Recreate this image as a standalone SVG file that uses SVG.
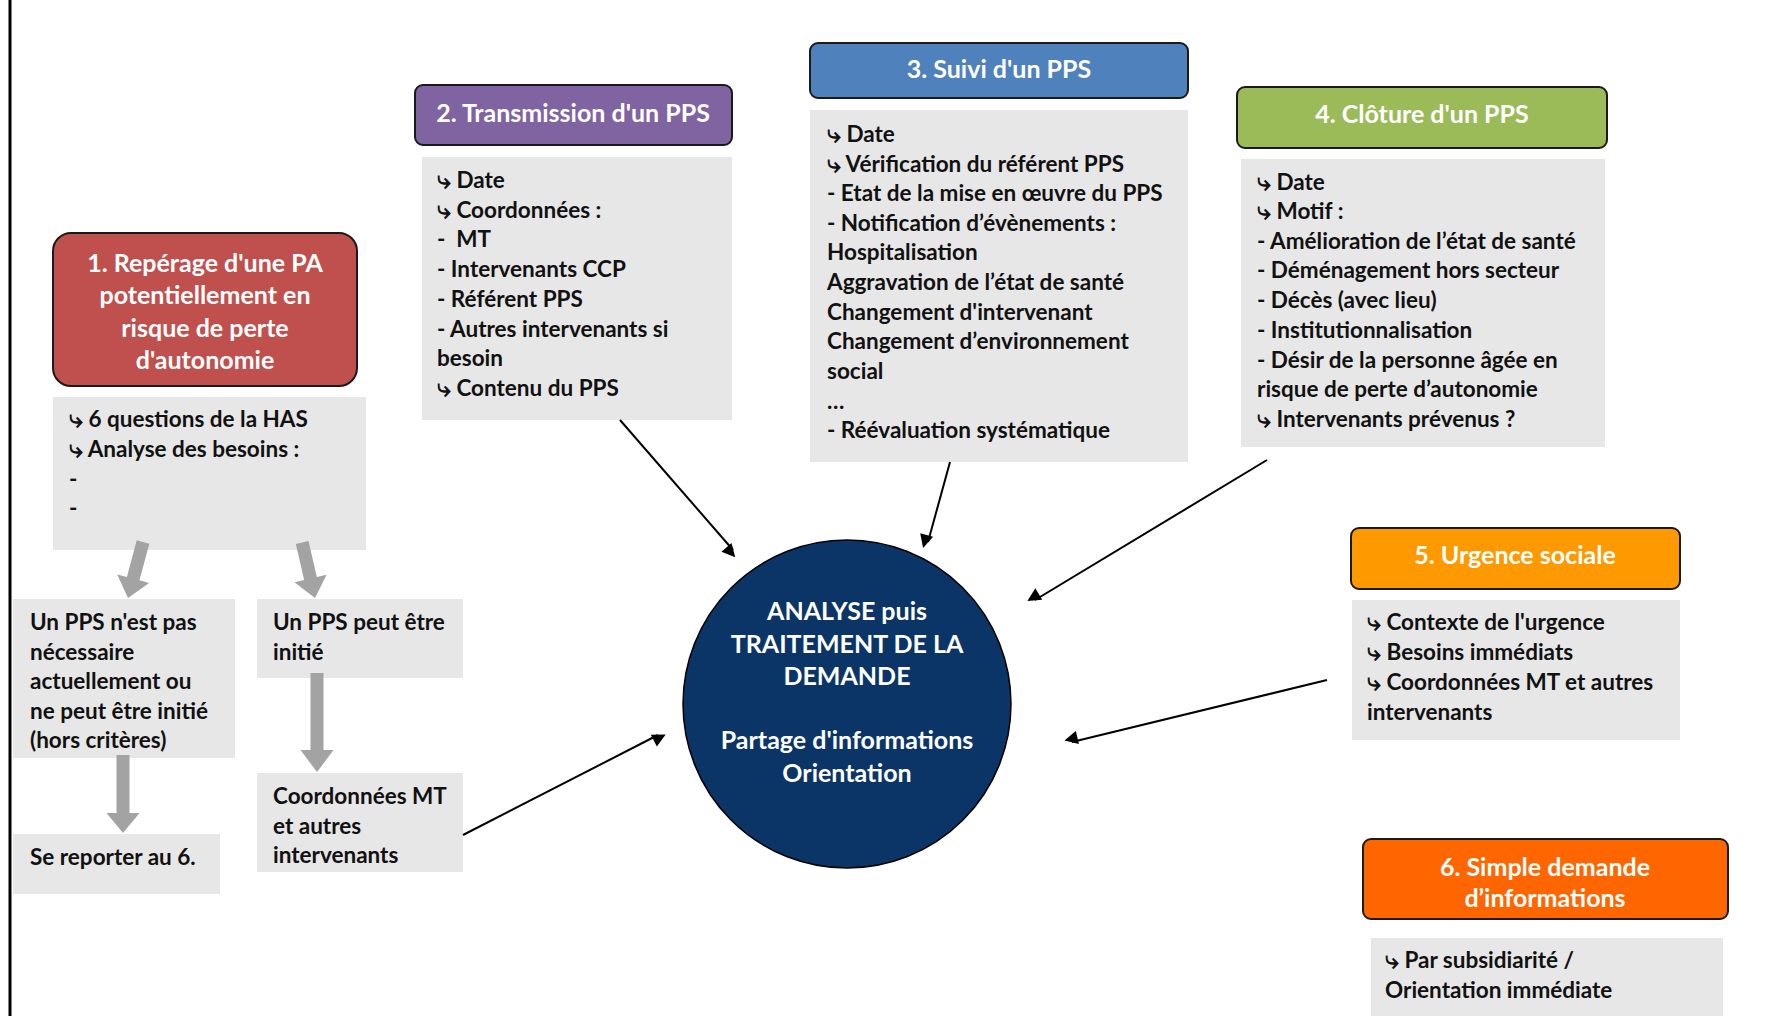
<svg xmlns="http://www.w3.org/2000/svg" width="1769" height="1016" viewBox="0 0 1769 1016">
<style>
.hdr{stroke:#1a1a1a;stroke-width:2}
.gray{fill:#E7E7E7}
.ht{font-family:Lato,"Liberation Sans",sans-serif;font-weight:bold;font-size:25px;fill:#fff;text-anchor:middle}
.bt{font-family:Lato,"Liberation Sans",sans-serif;font-weight:bold;font-size:22.5px;fill:#111;white-space:pre}
.ic{font-family:"DejaVu Sans",sans-serif;font-weight:bold;font-size:25px}
.ct{font-family:Lato,"Liberation Sans",sans-serif;font-weight:bold;font-size:25px;fill:#fff;text-anchor:middle}
.con{stroke:#000;stroke-width:2;fill:none;marker-end:url(#ah)}
.garrow{fill:#A3A3A3}
</style>
<defs>
<marker id="ah" viewBox="0 0 10 10" refX="9" refY="5" markerWidth="8" markerHeight="7" markerUnits="userSpaceOnUse" orient="auto" overflow="visible">
<path d="M0,0 L10,5 L0,10 z" fill="#000" transform="scale(1.9)"/>
</marker>
</defs>
<rect width="1769" height="1016" fill="#fff"/>
<line x1="10" y1="0" x2="10" y2="1016" stroke="#000" stroke-width="3"/>

<g id="node1">
<rect class="hdr" x="53" y="233" width="304" height="153" rx="18" fill="#C0504D"/>
<text class="ht"><tspan x="205" y="272">1. Repérage d'une PA</tspan><tspan x="205" y="304">potentiellement en</tspan><tspan x="205" y="337">risque de perte</tspan><tspan x="205" y="369">d'autonomie</tspan></text>
<rect class="gray" x="53" y="397" width="313" height="153"/>
<text class="bt"><tspan x="69" y="427"><tspan class="ic">⤷</tspan> 6 questions de la HAS</tspan><tspan x="69" y="457"><tspan class="ic">⤷</tspan> Analyse des besoins :</tspan><tspan x="69" y="487">-</tspan><tspan x="69" y="516">-</tspan></text>
</g>

<g id="nodeA">
<rect class="gray" x="13" y="599" width="222" height="159"/>
<text class="bt"><tspan x="30" y="630">Un PPS n'est pas</tspan><tspan x="30" y="660">nécessaire</tspan><tspan x="30" y="689">actuellement ou</tspan><tspan x="30" y="719">ne peut être initié</tspan><tspan x="30" y="748">(hors critères)</tspan></text>
</g>
<g id="nodeB">
<rect class="gray" x="257" y="599" width="206" height="79"/>
<text class="bt"><tspan x="273" y="630">Un PPS peut être</tspan><tspan x="273" y="660">initié</tspan></text>
</g>
<g id="nodeC">
<rect class="gray" x="13" y="834" width="207" height="60"/>
<text class="bt"><tspan x="30" y="865">Se reporter au 6.</tspan></text>
</g>
<g id="nodeD">
<rect class="gray" x="257" y="773" width="206" height="99"/>
<text class="bt"><tspan x="273" y="804">Coordonnées MT</tspan><tspan x="273" y="834">et autres</tspan><tspan x="273" y="863">intervenants</tspan></text>
</g>

<g id="node2">
<rect class="hdr" x="415" y="85" width="317" height="60" rx="8" fill="#8064A2"/>
<text class="ht" x="573" y="122">2. Transmission d'un PPS</text>
<rect class="gray" x="422" y="157" width="310" height="263"/>
<text class="bt"><tspan x="437" y="188"><tspan class="ic">⤷</tspan> Date</tspan><tspan x="437" y="218"><tspan class="ic">⤷</tspan> Coordonnées :</tspan><tspan x="437" y="247">-  MT</tspan><tspan x="437" y="277">- Intervenants CCP</tspan><tspan x="437" y="307">- Référent PPS</tspan><tspan x="437" y="337">- Autres intervenants si</tspan><tspan x="437" y="366">besoin</tspan><tspan x="437" y="396"><tspan class="ic">⤷</tspan> Contenu du PPS</tspan></text>
</g>

<g id="node3">
<rect class="hdr" x="810" y="43" width="378" height="55" rx="8" fill="#4F81BD"/>
<text class="ht" x="999" y="78">3. Suivi d'un PPS</text>
<rect class="gray" x="810" y="110" width="378" height="352"/>
<text class="bt"><tspan x="827" y="142"><tspan class="ic">⤷</tspan> Date</tspan><tspan x="827" y="172"><tspan class="ic">⤷</tspan> Vérification du référent PPS</tspan><tspan x="827" y="201">- Etat de la mise en œuvre du PPS</tspan><tspan x="827" y="231">- Notification d’évènements :</tspan><tspan x="827" y="260">Hospitalisation</tspan><tspan x="827" y="290">Aggravation de l’état de santé</tspan><tspan x="827" y="320">Changement d'intervenant</tspan><tspan x="827" y="349">Changement d’environnement</tspan><tspan x="827" y="379">social</tspan><tspan x="827" y="409">…</tspan><tspan x="827" y="438">- Réévaluation systématique</tspan></text>
</g>

<g id="node4">
<rect class="hdr" x="1237" y="87" width="370" height="61" rx="8" fill="#9BBB59"/>
<text class="ht" x="1422" y="123">4. Clôture d'un PPS</text>
<rect class="gray" x="1241" y="159" width="364" height="288"/>
<text class="bt"><tspan x="1257" y="190"><tspan class="ic">⤷</tspan> Date</tspan><tspan x="1257" y="219"><tspan class="ic">⤷</tspan> Motif :</tspan><tspan x="1257" y="249">- Amélioration de l’état de santé</tspan><tspan x="1257" y="278">- Déménagement hors secteur</tspan><tspan x="1257" y="308">- Décès (avec lieu)</tspan><tspan x="1257" y="338">- Institutionnalisation</tspan><tspan x="1257" y="368">- Désir de la personne âgée en</tspan><tspan x="1257" y="397">risque de perte d’autonomie</tspan><tspan x="1257" y="427"><tspan class="ic">⤷</tspan> Intervenants prévenus ?</tspan></text>
</g>

<g id="node5">
<rect class="hdr" x="1351" y="528" width="329" height="61" rx="8" fill="#FF9900"/>
<text class="ht" x="1515" y="564">5. Urgence sociale</text>
<rect class="gray" x="1352" y="600" width="328" height="140"/>
<text class="bt"><tspan x="1367" y="630"><tspan class="ic">⤷</tspan> Contexte de l'urgence</tspan><tspan x="1367" y="660"><tspan class="ic">⤷</tspan> Besoins immédiats</tspan><tspan x="1367" y="690"><tspan class="ic">⤷</tspan> Coordonnées MT et autres</tspan><tspan x="1367" y="720">intervenants</tspan></text>
</g>

<g id="node6">
<rect class="hdr" x="1363" y="839" width="365" height="80" rx="8" fill="#FF6600"/>
<text class="ht"><tspan x="1545" y="876">6. Simple demande</tspan><tspan x="1545" y="907">d’informations</tspan></text>
<rect class="gray" x="1371" y="938" width="352" height="78"/>
<text class="bt"><tspan x="1385" y="968"><tspan class="ic">⤷</tspan> Par subsidiarité /</tspan><tspan x="1385" y="998">Orientation immédiate</tspan></text>
</g>

<g id="center">
<circle cx="847" cy="704" r="164" fill="#0B3467" stroke="#000" stroke-width="1.5"/>
<text class="ct"><tspan x="847" y="620">ANALYSE puis</tspan><tspan x="847" y="653">TRAITEMENT DE LA</tspan><tspan x="847" y="685">DEMANDE</tspan><tspan x="847" y="749">Partage d'informations</tspan><tspan x="847" y="782">Orientation</tspan></text>
</g>

<g id="connectors">
<g class="garrow">
<polygon transform="translate(128,598) rotate(15)" points="-6.5,-58 6.5,-58 6.5,-20 16.5,-20 0,0 -16.5,-20 -6.5,-20"/>
<polygon transform="translate(315,598) rotate(-13)" points="-6.5,-57 6.5,-57 6.5,-20 16.5,-20 0,0 -16.5,-20 -6.5,-20"/>
<polygon transform="translate(317,772)" points="-6.5,-99 6.5,-99 6.5,-22 16.5,-22 0,0 -16.5,-22 -6.5,-22"/>
<polygon transform="translate(123,833)" points="-6.5,-78 6.5,-78 6.5,-20 16.5,-20 0,0 -16.5,-20 -6.5,-20"/>
</g>
<line class="con" x1="620" y1="420" x2="733" y2="550"/>
<line class="con" x1="950" y1="462" x2="928" y2="542"/>
<line class="con" x1="1267" y1="460" x2="1035" y2="600"/>
<line class="con" x1="1327" y1="680" x2="1072" y2="742"/>
<line class="con" x1="463" y1="835" x2="658" y2="735"/>
</g>
</svg>
